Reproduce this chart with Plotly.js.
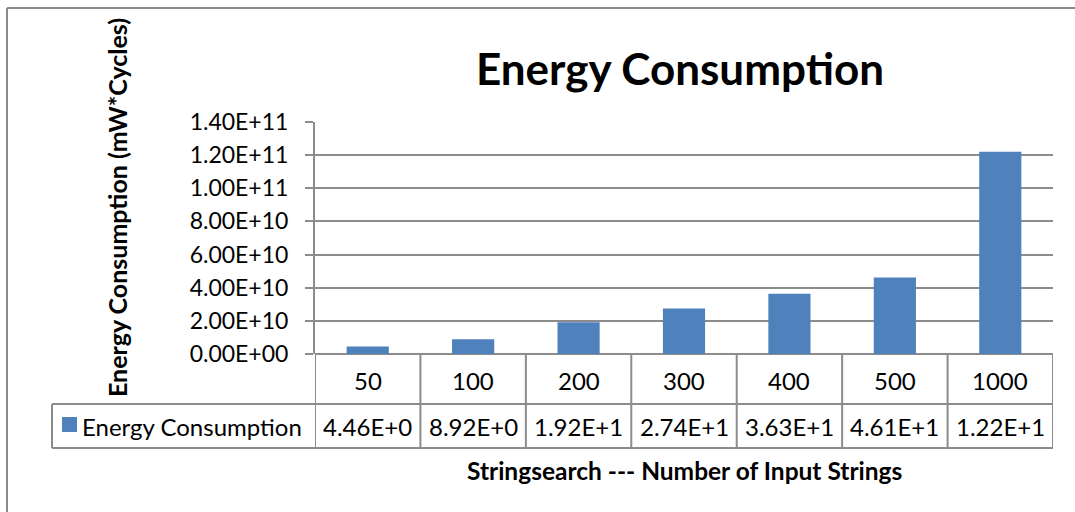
<!DOCTYPE html>
<html>
<head>
<meta charset="utf-8">
<script src="https://cdn.plot.ly/plotly-3.0.1.min.js"></script>
<style>
  html, body { margin: 0; padding: 0; background: #ffffff; }
  #chart { width: 1075px; height: 512px; }
</style>
</head>
<body>
<div id="chart"></div>
<script>
// Stringsearch benchmark: energy consumption per input size
const categories = ['50', '100', '200', '300', '400', '500', '1000'];
const energy = [4.46e9, 8.92e9, 1.92e10, 2.74e10, 3.63e10, 4.61e10, 1.22e11];
const seriesName = 'Energy Consumption';
const yTickVals = [0, 2e10, 4e10, 6e10, 8e10, 1e11, 1.2e11, 1.4e11];
const yTickText = ['0.00E+00', '2.00E+10', '4.00E+10', '6.00E+10', '8.00E+10',
                   '1.00E+11', '1.20E+11', '1.40E+11'];

const FONT = 'Lato, "Open Sans", sans-serif';
const BAR = '#4F81BD';
const LINE = '#8c8c8c';

// plot-area box in pixels, used to place the data table underneath
const W = 1075, H = 512;
const PL = 315, PR = 1053, PT = 122, PB = 354;
const fx = x => (x - PL) / (PR - PL);
const fy = y => (PB - y) / (PB - PT);

// spreadsheet-style scientific format, clipped to the cell width
function sci(v) {
  const e = v === 0 ? 0 : Math.floor(Math.log10(Math.abs(v)));
  const m = v / Math.pow(10, e);
  const s = m.toFixed(2) + 'E' + (e < 0 ? '-' : '+') + String(Math.abs(e)).padStart(2, '0');
  return s.slice(0, 7);
}

const rowCat = 380, rowVal = 426;
const tableTop = PB, rowSplit = 404, tableBottom = 448;

const shapes = [];
const line = (x0, y0, x1, y1, xref) => shapes.push({
  type: 'line', xref: xref || 'paper', yref: 'paper',
  x0: x0, y0: y0, x1: x1, y1: y1,
  line: { color: LINE, width: 2 }, layer: 'above'
});

// outer chart frame (left and top edges)
line(fx(7), fy(8), fx(7), fy(H + 5));
line(fx(7), fy(8), fx(W + 5), fy(8));

// data table grid
line(fx(PL), fy(rowSplit), fx(PR), fy(rowSplit));
line(fx(52), fy(tableBottom), fx(PR), fy(tableBottom));
line(fx(52), fy(rowSplit), fx(PL), fy(rowSplit));
line(fx(52), fy(rowSplit), fx(52), fy(tableBottom));
for (let i = 0; i <= categories.length; i++) {
  line(i - 0.5, fy(tableTop), i - 0.5, fy(tableBottom), 'x');
}

// legend key inside the table
shapes.push({
  type: 'rect', xref: 'paper', yref: 'paper',
  x0: fx(62), x1: fx(77), y0: fy(432), y1: fy(417),
  fillcolor: BAR, line: { width: 0 }
});

const cellFont = { family: FONT, size: 24, color: '#000' };
const annotations = [];
categories.forEach((c, i) => {
  annotations.push({
    x: i, xref: 'x', y: fy(rowCat), yref: 'paper',
    text: c, showarrow: false, xanchor: 'center', yanchor: 'middle',
    font: cellFont
  });
  annotations.push({
    x: i, xref: 'x', y: fy(rowVal), yref: 'paper',
    text: sci(energy[i]), showarrow: false, xanchor: 'center', yanchor: 'middle',
    font: cellFont
  });
});
annotations.push({
  x: fx(80), xref: 'paper', y: fy(rowVal), yref: 'paper',
  text: seriesName, showarrow: false, xanchor: 'left', yanchor: 'middle',
  font: cellFont
});
annotations.push({
  x: fx(684), xref: 'paper', y: fy(470), yref: 'paper',
  text: '<b>Stringsearch --- Number of Input Strings</b>', showarrow: false,
  xanchor: 'center', yanchor: 'middle',
  font: { family: FONT, size: 24.5, color: '#000' }
});
annotations.push({
  x: fx(117), xref: 'paper', y: fy(208), yref: 'paper',
  text: '<b>Energy Consumption (mW*Cycles)</b>', showarrow: false, textangle: -90,
  xanchor: 'center', yanchor: 'middle',
  font: { family: FONT, size: 25, color: '#000' }
});

const trace = {
  type: 'bar',
  x: categories,
  y: energy,
  name: seriesName,
  marker: { color: BAR },
  hoverinfo: 'x+y'
};

const layout = {
  width: W, height: H,
  margin: { l: PL, r: W - PR, t: PT, b: H - PB, pad: 0 },
  paper_bgcolor: '#ffffff',
  plot_bgcolor: '#ffffff',
  showlegend: false,
  bargap: 0.6,
  title: {
    text: '<b>Energy Consumption</b>',
    x: 680 / W, xref: 'container', xanchor: 'center',
    y: 1 - 70 / H, yref: 'container', yanchor: 'middle',
    font: { family: FONT, size: 44, color: '#000' }
  },
  xaxis: {
    type: 'category',
    range: [-0.5, categories.length - 0.5],
    showticklabels: false,
    ticks: '',
    showgrid: false,
    showline: false,
    zeroline: false,
    fixedrange: true
  },
  yaxis: {
    range: [0, 1.4e11],
    tickvals: yTickVals,
    ticktext: yTickText,
    ticks: 'outside',
    ticklen: 8,
    tickwidth: 2,
    tickcolor: LINE,
    ticklabelstandoff: 12,
    showgrid: true,
    gridcolor: LINE,
    gridwidth: 2,
    showline: true,
    linecolor: LINE,
    linewidth: 2,
    zeroline: true,
    zerolinecolor: LINE,
    zerolinewidth: 2,
    tickfont: { family: FONT, size: 23, color: '#000' },
    fixedrange: true
  },
  shapes: shapes,
  annotations: annotations
};

Plotly.newPlot('chart', [trace], layout, { displayModeBar: false, staticPlot: true });
</script>
</body>
</html>
